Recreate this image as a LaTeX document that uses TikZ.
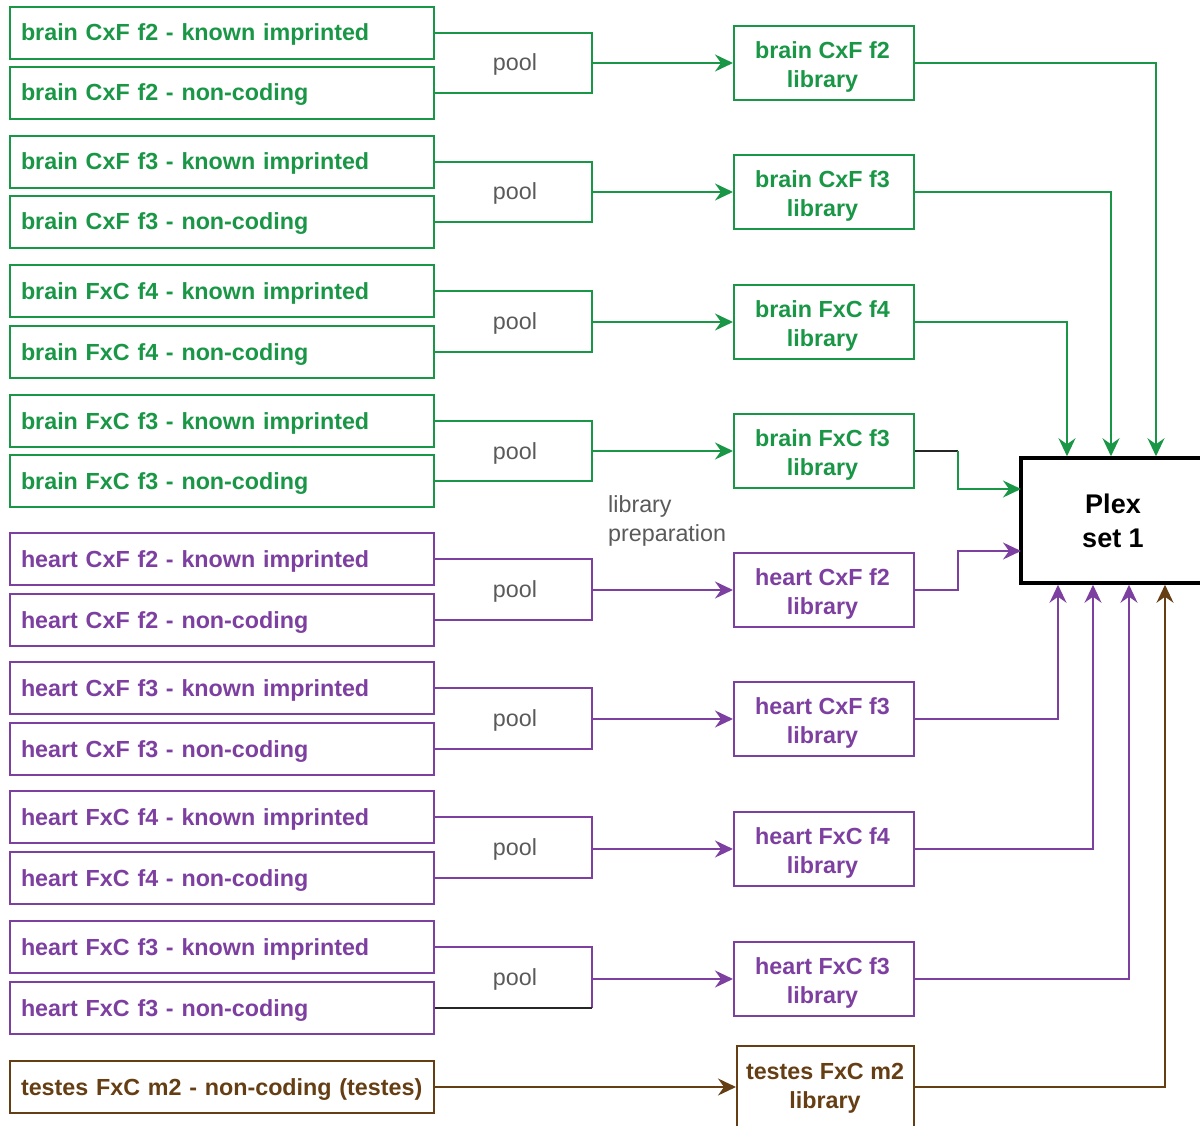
\documentclass[tikz,border=0pt]{standalone}
\usepackage{fontspec}
\setmainfont{Liberation Sans}
\usetikzlibrary{arrows.meta,calc}
\definecolor{G}{RGB}{25,150,70}
\definecolor{P}{RGB}{125,64,160}
\definecolor{B}{RGB}{102,62,20}
\definecolor{T}{RGB}{90,90,90}
\begin{document}
\begin{tikzpicture}[x=1pt,y=-1pt,
  src/.style={draw, line width=2pt, text width=402pt, align=left, inner xsep=11pt, inner ysep=0pt, minimum height=52pt, text height=21pt, text depth=5pt, anchor=west, font=\fontsize{23.3}{29}\selectfont\bfseries},
  lib/.style={draw, line width=2pt, minimum width=180pt, minimum height=74pt, inner sep=0pt},
  lbl/.style={align=center, inner sep=0pt, yshift=-3.5pt, xshift=-1.5pt, font=\fontsize{23.3}{29}\selectfont\bfseries},
  poolt/.style={text=T, font=\fontsize{23.3}{29}\selectfont, inner sep=0pt, text height=21pt, text depth=5pt},
  ln/.style={line width=1.7pt},
  arr/.style={line width=1.7pt, -{Stealth[length=18pt,width=17pt,inset=6pt]}}
]
\useasboundingbox (0,0) rectangle (1200,1126);
\coordinate (px) at (592,0);
\coordinate (jx) at (958,0);
\coordinate (t1) at (1156,0);
\coordinate (t2) at (1111,0);
\coordinate (t3) at (1067,0);
\coordinate (b1) at (1058,0);
\coordinate (b2) at (1093,0);
\coordinate (b3) at (1129,0);
\coordinate (b4) at (1165,0);

% Plex
\node[draw, line width=3.5pt, minimum width=184pt, minimum height=125pt, align=center, inner sep=0pt,
  font=\fontsize{27}{34}\selectfont\bfseries] (plex) at (1113,520.5) {Plex\\set 1};
\coordinate (pin4) at (1021,489);
\coordinate (pin5) at (1021,551);

% source boxes
\foreach \nm/\y/\c/\t in {
 k1/33/G/brain CxF f2 - known imprinted, n1/93/G/brain CxF f2 - non-coding,
 k2/162/G/brain CxF f3 - known imprinted, n2/222/G/brain CxF f3 - non-coding,
 k3/291/G/brain FxC f4 - known imprinted, n3/352/G/brain FxC f4 - non-coding,
 k4/421/G/brain FxC f3 - known imprinted, n4/481/G/brain FxC f3 - non-coding,
 k5/559/P/heart CxF f2 - known imprinted, n5/620/P/heart CxF f2 - non-coding,
 k6/688/P/heart CxF f3 - known imprinted, n6/749/P/heart CxF f3 - non-coding,
 k7/817/P/heart FxC f4 - known imprinted, n7/878/P/heart FxC f4 - non-coding,
 k8/947/P/heart FxC f3 - known imprinted, n8/1008/P/heart FxC f3 - non-coding}
 {\node[src, draw=\c, text=\c] (\nm) at (9,\y) {\mbox{\t}};}
\node[src, draw=B, text=B] (ts) at (9,1087) {\mbox{testes FxC m2 - non-coding (testes)}};

% libraries
\foreach \nm/\y/\c/\a/\b in {
 l1/63/G/brain CxF f2/library, l2/192/G/brain CxF f3/library,
 l3/322/G/brain FxC f4/library, l4/451/G/brain FxC f3/library,
 l5/590/P/heart CxF f2/library, l6/719/P/heart CxF f3/library,
 l7/849/P/heart FxC f4/library, l8/979/P/heart FxC f3/library}
 {\node[lib, draw=\c, label={[lbl, text=\c]center:{\a\\\b}}] (\nm) at (824,\y) {};}
\node[lib, draw=B, minimum width=177pt, minimum height=81pt, label={[lbl, text=B, yshift=1.5pt, xshift=1pt]center:{testes FxC m2\\library}}] (lt) at (825.5,1086.5) {};

% pools
\foreach \i/\c in {1/G,2/G,3/G,4/G,5/P,6/P,7/P} {
  \draw[ln, \c] (k\i.east) -- (k\i.east -| px) |- (n\i.east);
  \draw[arr, \c] (l\i.west -| px) -- (l\i.west);
  \node[poolt] (pl\i) at ($(k\i.east)!0.5!(n\i.east) + (80,0)$) {pool};
}
\draw[ln, P] (k8.east) -- (k8.east -| px) -- (n8.east -| px);
\draw[ln, black!85] (n8.east -| px) -- (n8.east);
\draw[arr, P] (l8.west -| px) -- (l8.west);
\node[poolt] (pl8) at (515,977.5) {pool};

\draw[arr, B] (ts.east) -- (ts.east -| lt.west);

\node[text=T, font=\fontsize{23.3}{29}\selectfont, align=left, inner sep=0pt, anchor=west] (prep) at (608,520.5) {library\\preparation};

% to plex
\draw[arr, G] (l1.east) -| (t1 |- plex.north);
\draw[arr, G] (l2.east) -| (t2 |- plex.north);
\draw[arr, G] (l3.east) -| (t3 |- plex.north);
\draw[ln, black!85] (l4.east) -- (l4.east -| jx);
\draw[arr, G] (l4.east -| jx) |- (pin4);
\draw[arr, P] (l5.east) -| (jx |- pin5) -- (pin5);
\draw[arr, P] (l6.east) -| (b1 |- plex.south);
\draw[arr, P] (l7.east) -| (b2 |- plex.south);
\draw[arr, P] (l8.east) -| (b3 |- plex.south);
\draw[arr, B] (lt.east |- ts.east) -| (b4 |- plex.south);
\end{tikzpicture}
\end{document}
